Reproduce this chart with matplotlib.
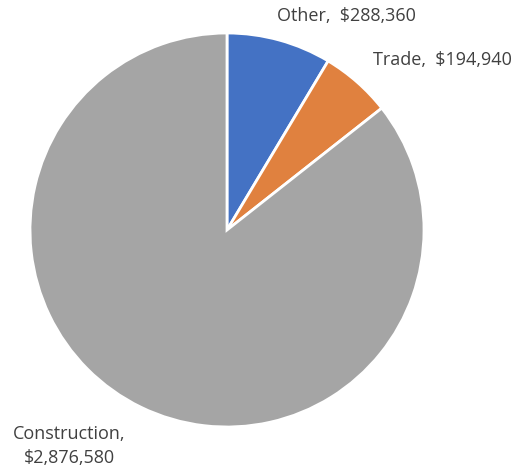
import numpy as np
import matplotlib.pyplot as plt

plt.rcParams['font.family'] = ['Open Sans', 'DejaVu Sans']

categories = ["Other", "Trade", "Construction"]
values = [288360, 194940, 2876580]
colors = ['#4472C4', '#E0813F', '#A5A5A5']

fig = plt.figure(figsize=(5.19, 4.72), dpi=100)
ax = fig.add_axes([0, 0, 1, 1])

ax.pie(values, colors=colors, startangle=90, counterclock=False,
       center=(227, 242), radius=197, frame=True,
       wedgeprops=dict(edgecolor='white', linewidth=2))

ax.set_xlim(0, 519)
ax.set_ylim(0, 472)
ax.set_aspect('equal')
ax.axis('off')

txt = dict(color='#404040', fontsize=13, va='center')
ax.text(277, 472 - 16, f"{categories[0]},  ${values[0]:,}", ha='left', **txt)
ax.text(373, 472 - 60, f"{categories[1]},  ${values[1]:,}", ha='left', **txt)
ax.text(69, 472 - 446, f"{categories[2]},\n${values[2]:,}", ha='center',
        multialignment='center', linespacing=1.45, **txt)

plt.savefig("out.png", dpi=100)
